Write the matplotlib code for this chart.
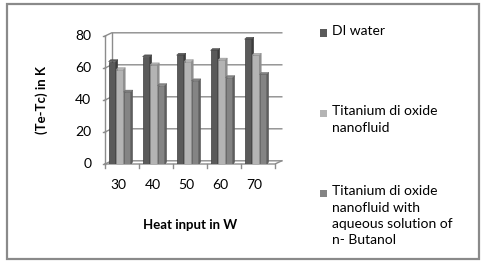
import matplotlib
matplotlib.use("Agg")
import matplotlib.pyplot as plt
from matplotlib.patches import Rectangle, Polygon
import numpy as np

categories = ["30", "40", "50", "60", "70"]
series_names = ["DI water", "Titanium di oxide\nnanofluid",
                "Titanium di oxide\nnanofluid with\naqueous solution of\nn- Butanol"]
di_water = [64, 67, 68, 71, 78]
tio2 = [59, 62, 64, 65, 68]
butanol = [45, 49, 52, 54, 56]
yticks = [0, 20, 40, 60, 80]
colors = ["#5a5a5a", "#b4b4b4", "#848484"]
side_colors = ["#3c3c3c", "#8e8e8e", "#5e5e5e"]

plt.rcParams['font.family'] = ['Lato', 'DejaVu Sans']

W, H = 485, 268
fig = plt.figure(figsize=(W/100, H/100), dpi=100)

def fx(px): return px / W
def fy(py): return 1 - py / H

# outer border
fig.patches.append(Rectangle((fx(7), fy(259)), fx(479) - fx(7), fy(4) - fy(259),
                             transform=fig.transFigure, fill=False,
                             edgecolor="#8a8a8a", linewidth=1.6))

ax = fig.add_axes([fx(105), fy(164), fx(275) - fx(105), fy(36) - fy(164)])
ax.set_xlim(-0.5, 4.5)
ax.set_ylim(0, 80)
for s in ax.spines.values():
    s.set_visible(False)

dx, dy = 0.2, 2.0  # 3D depth offset
grid_c = "#8c8c8c"
# back wall gridlines
for t in yticks:
    ax.plot([-0.5, -0.5 + dx, 4.5 + dx], [t, t + dy, t + dy], color=grid_c, lw=1.0,
            clip_on=False, zorder=1)
# back wall left edge
ax.plot([-0.5 + dx, -0.5 + dx], [dy, 80 + dy], color=grid_c, lw=1.0, clip_on=False, zorder=1)
# front axis
ax.plot([-0.5, -0.5], [0, 80], color=grid_c, lw=1.0, clip_on=False, zorder=1)
ax.plot([-0.5, 4.5, 4.5 + dx], [0, 0, dy], color=grid_c, lw=1.0, clip_on=False, zorder=1)
for t in yticks:
    ax.plot([-0.56, -0.5], [t, t], color=grid_c, lw=1.0, clip_on=False)
for i in range(len(categories) + 1):
    ax.plot([-0.5 + i, -0.5 + i], [0, -2.5], color=grid_c, lw=1.0, clip_on=False)

ax.set_xticks([])
ax.set_yticks([])
for t in yticks:
    ax.text(-0.9, t, str(t), ha="right", va="center", fontsize=10)
for i, c in enumerate(categories):
    ax.text(i - 0.1, -13, c, ha="center", va="center", fontsize=10)

x = np.arange(len(categories))
bw = 0.21
offsets = [-0.32, -0.1, 0.12]
bd, bh = 0.06, 1.2
for k, vals in enumerate([di_water, tio2, butanol]):
    for i, v in enumerate(vals):
        x0 = x[i] + offsets[k] - bw / 2 + 0.03
        ax.add_patch(Rectangle((x0, 0), bw, v, facecolor=colors[k], edgecolor=side_colors[k],
                               lw=0.5, zorder=3 + k))
        ax.add_patch(Polygon([(x0 + bw, 0), (x0 + bw + bd, bh), (x0 + bw + bd, v + bh),
                              (x0 + bw, v)], closed=True, facecolor=side_colors[k],
                             edgecolor=side_colors[k], lw=0.3, zorder=3 + k))
        ax.add_patch(Polygon([(x0, v), (x0 + bw, v), (x0 + bw + bd, v + bh), (x0 + bd, v + bh)],
                             closed=True, facecolor=colors[k], edgecolor=side_colors[k],
                             lw=0.3, zorder=3 + k))

fig.text(fx(42), fy(100), "(Te-Tc) in K", rotation=90, ha="center", va="center",
         fontsize=9.5, fontweight="bold")
fig.text(fx(190), fy(225), "Heat input in W", ha="center", va="center",
         fontsize=9.5, fontweight="bold")

# legend
leg_y = [33, 113, 193]
for k, name in enumerate(series_names):
    y = leg_y[k]
    fig.patches.append(Rectangle((fx(320), fy(y + 3.5)), fx(7), fy(0) - fy(7),
                                 transform=fig.transFigure, facecolor=colors[k],
                                 edgecolor="none"))
    fig.text(fx(332), fy(y - 8), name, ha="left", va="top", fontsize=10,
             linespacing=1.45, transform=fig.transFigure)

fig.savefig("out.png", dpi=100)
